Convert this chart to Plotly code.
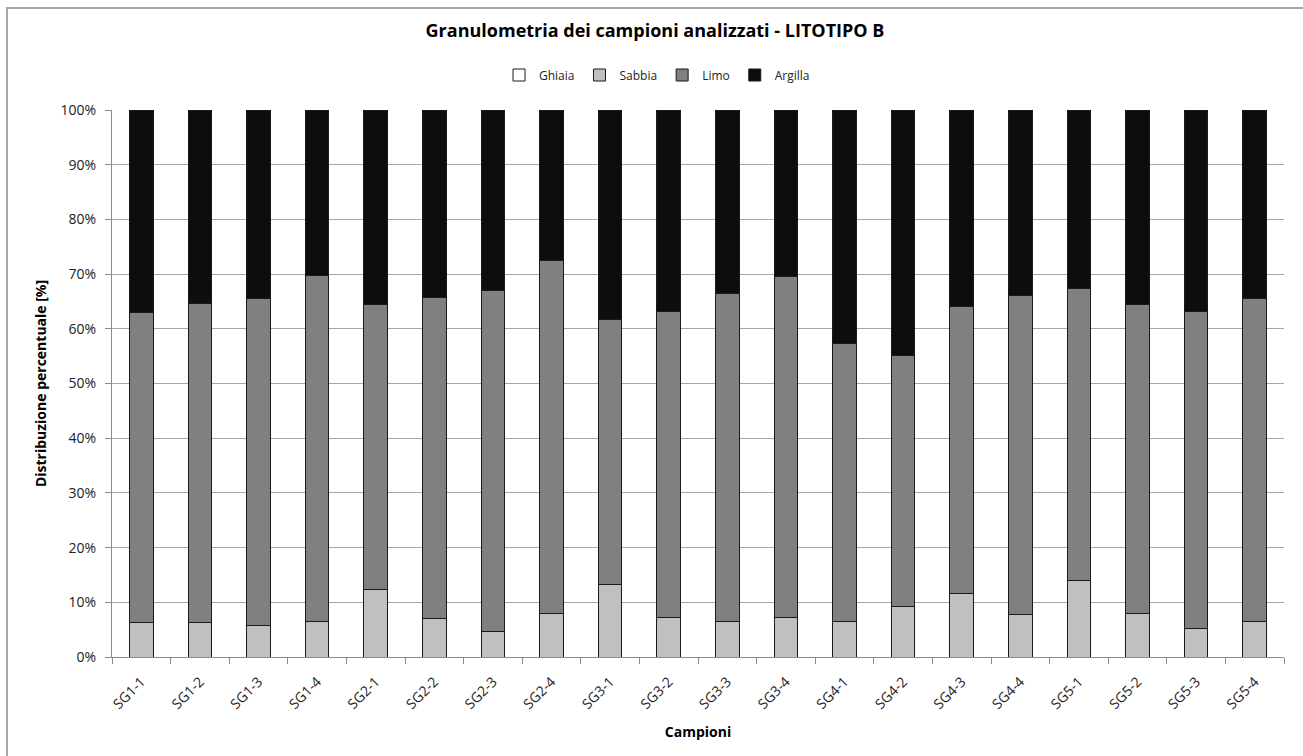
import plotly.graph_objects as go

campioni = ["SG1-1", "SG1-2", "SG1-3", "SG1-4", "SG2-1", "SG2-2", "SG2-3", "SG2-4",
            "SG3-1", "SG3-2", "SG3-3", "SG3-4", "SG4-1", "SG4-2", "SG4-3", "SG4-4",
            "SG5-1", "SG5-2", "SG5-3", "SG5-4"]

ghiaia = [0.0] * 20
sabbia = [6.3, 6.3, 5.8, 6.5, 12.4, 7.0, 4.6, 8.0, 13.2, 7.3,
          6.5, 7.3, 6.5, 9.2, 11.7, 7.8, 13.9, 8.0, 5.3, 6.5]
limo = [56.6, 58.3, 59.8, 63.2, 52.0, 58.8, 62.4, 64.4, 48.5, 55.8,
        60.0, 62.2, 50.8, 45.9, 52.4, 58.3, 53.4, 56.4, 57.8, 59.1]
argilla = [37.1, 35.4, 34.4, 30.3, 35.6, 34.2, 33.0, 27.6, 38.3, 36.9,
           33.5, 30.5, 42.7, 44.9, 35.9, 33.9, 32.7, 35.6, 36.9, 34.4]

serie = [("Ghiaia", ghiaia, "#FFFFFF"),
         ("Sabbia", sabbia, "#C0C0C0"),
         ("Limo", limo, "#808080"),
         ("Argilla", argilla, "#0D0D0D")]

fig = go.Figure()
for nome, valori, colore in serie:
    fig.add_trace(go.Bar(
        x=campioni, y=valori, name=nome,
        marker=dict(color=colore, line=dict(color="#1a1a1a", width=1)),
    ))

W, H = 1303, 756
L, R, T, B = 112, 19, 110, 99
pw, ph = W - L - R, H - T - B

def px_x(x):
    return (x - L) / pw

def px_y(y):
    return (H - B - y) / ph

font_fam = "'Open Sans', sans-serif"

fig.update_layout(
    width=W, height=H,
    margin=dict(l=L, r=R, t=T, b=B, autoexpand=False),
    barmode="stack", bargap=0.6,
    plot_bgcolor="white", paper_bgcolor="white",
    font=dict(family=font_fam, size=14, color="#222"),
    title=dict(text="<b>Granulometria dei campioni analizzati - LITOTIPO B</b>",
               x=655 / W, xref="container", xanchor="center",
               y=1 - 31 / H, yanchor="middle", font=dict(size=18, color="#000")),
    legend=dict(orientation="h", x=px_x(657), xanchor="center", y=px_y(75), yanchor="middle",
                font=dict(size=12), traceorder="normal", itemwidth=30,
                bgcolor="rgba(0,0,0,0)"),
    showlegend=True,
    shapes=[dict(type="rect", xref="paper", yref="paper",
                 x0=px_x(7), x1=px_x(1320), y0=px_y(780), y1=px_y(8),
                 line=dict(color="#A6A6A6", width=2), layer="below")],
)

fig.update_xaxes(
    type="category", tickson="boundaries", ticks="outside", ticklen=6,
    tickcolor="#8c8c8c", showline=True, linecolor="#8c8c8c", linewidth=1,
    tickangle=-45, tickfont=dict(size=14, color="#222"), ticklabelstandoff=10,
    title=dict(text="<b>Campioni</b>", font=dict(size=14, color="#000"), standoff=15),
    showgrid=False,
)
fig.update_yaxes(
    range=[0, 100], dtick=10, ticksuffix="%", ticks="outside", ticklen=6,
    tickcolor="#8c8c8c", showline=True, linecolor="#8c8c8c", linewidth=1,
    showgrid=True, gridcolor="#A6A6A6", gridwidth=1, zeroline=False,
    tickfont=dict(size=14, color="#222"), ticklabelstandoff=6,
    title=dict(text="<b>Distribuzione percentuale [%]</b>", font=dict(size=14, color="#000"),
               standoff=10),
)

fig.write_html("out.html")
